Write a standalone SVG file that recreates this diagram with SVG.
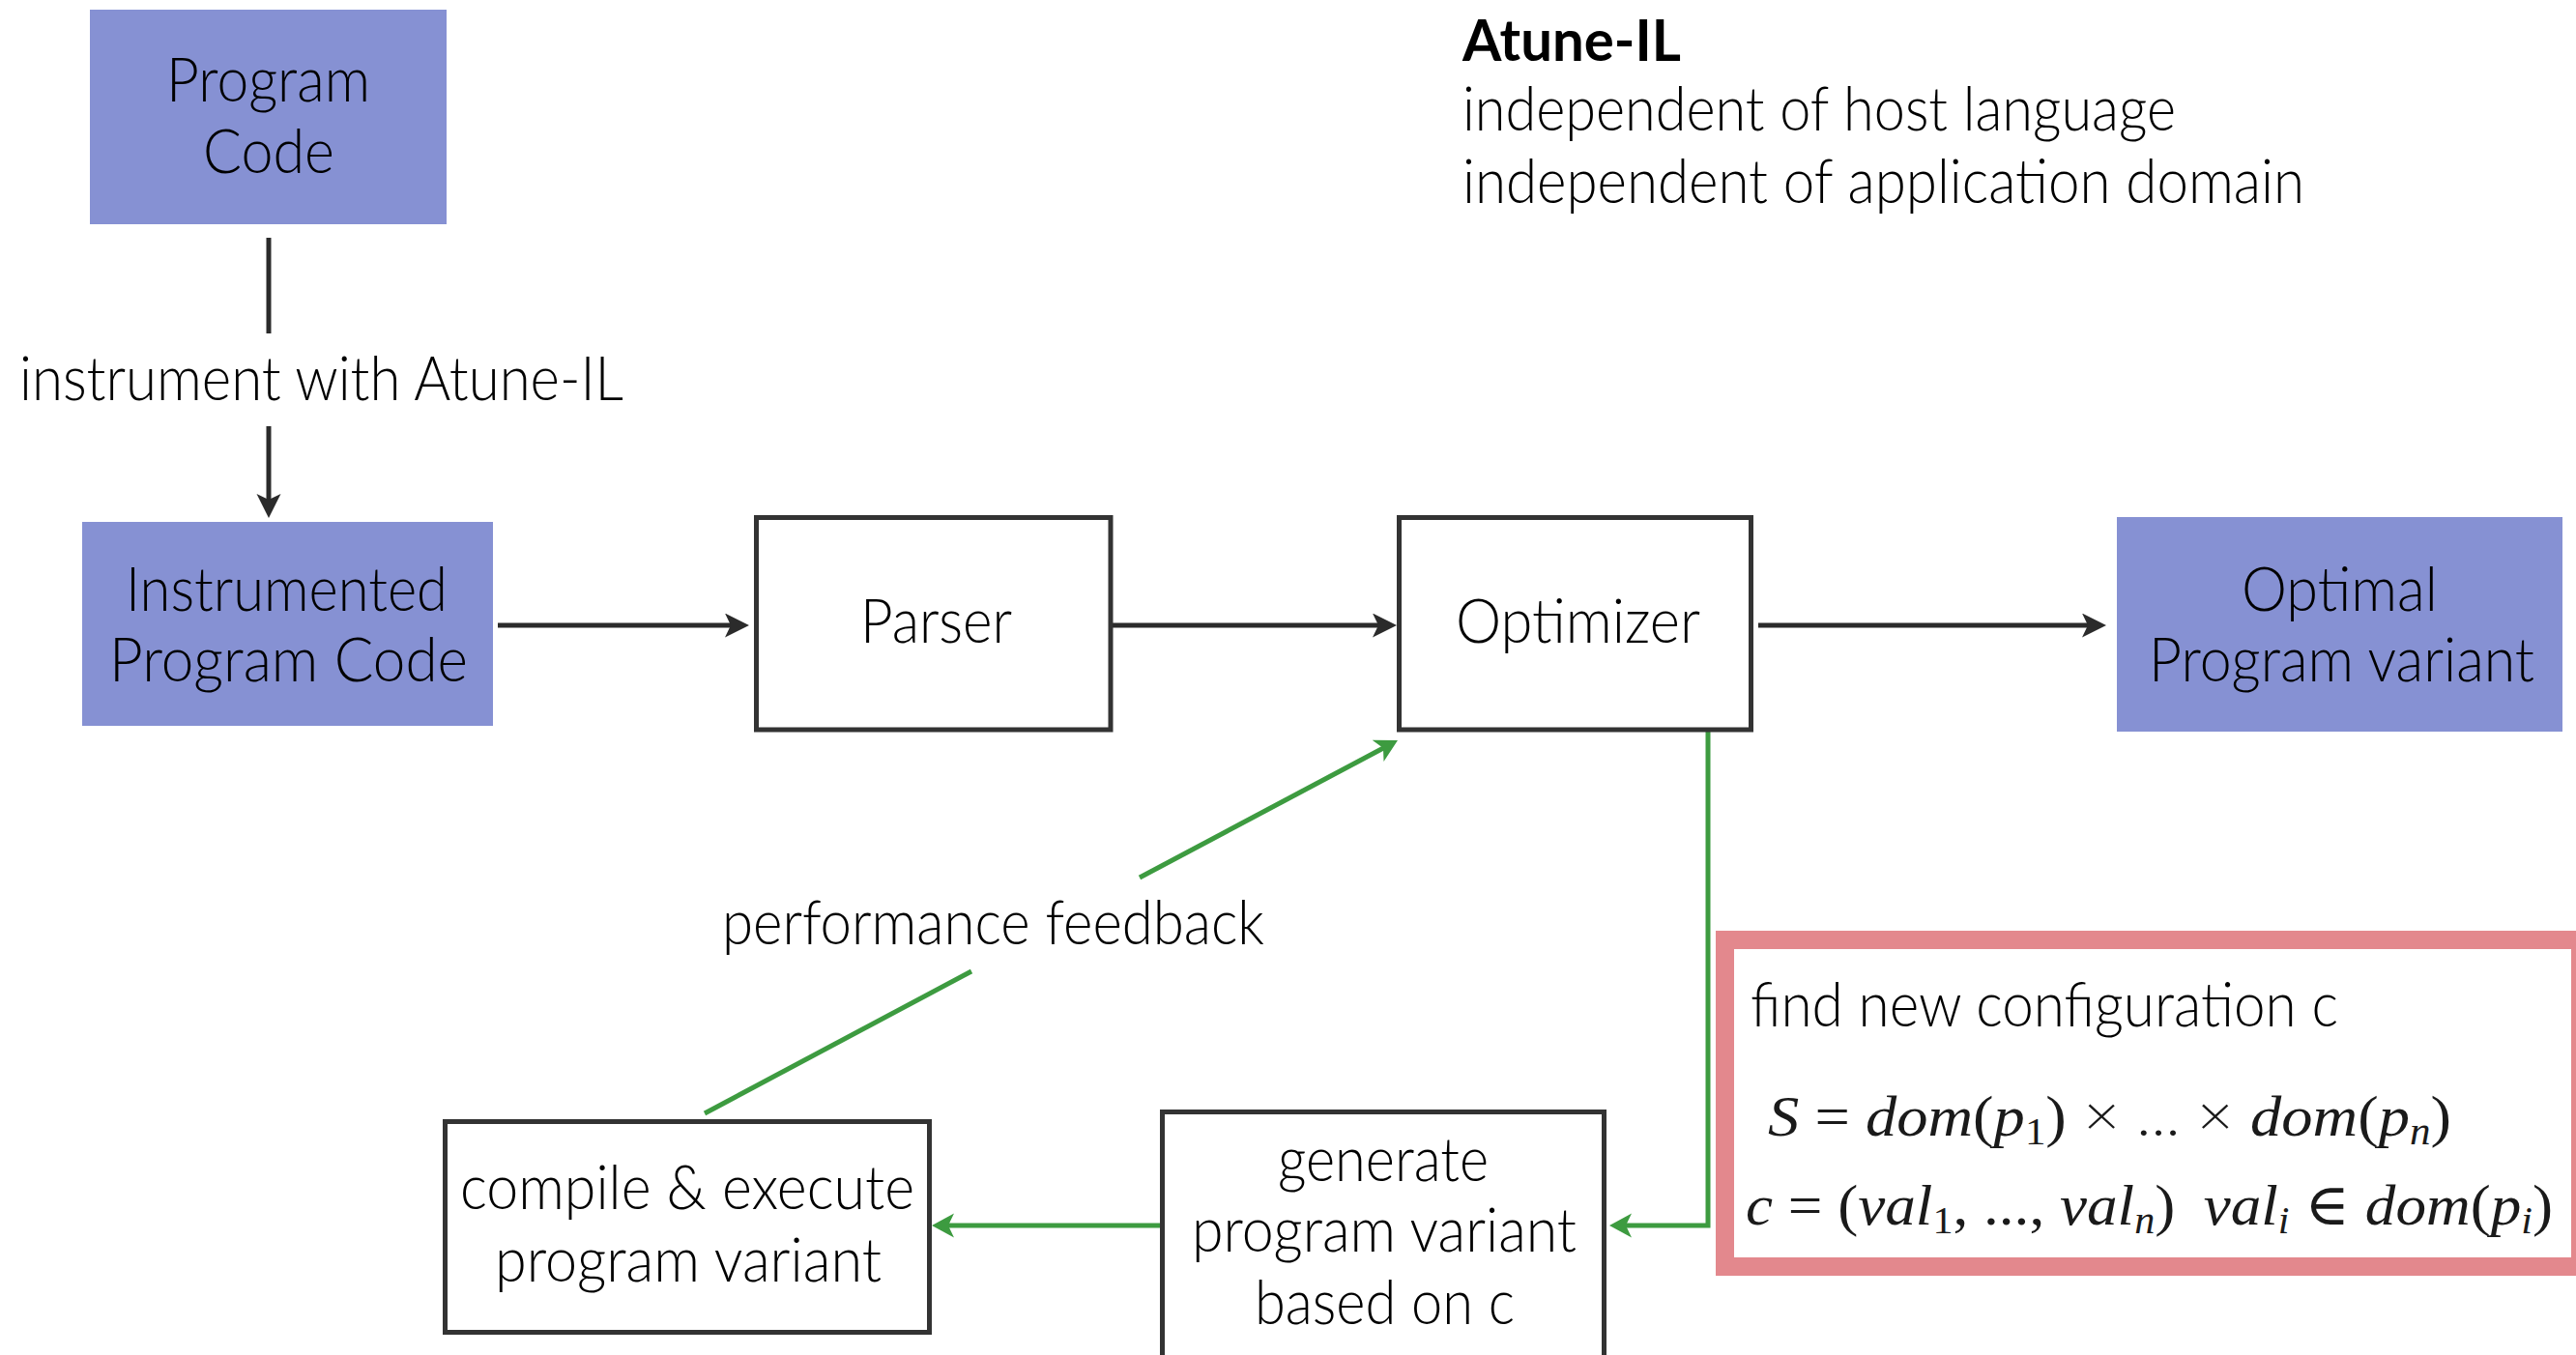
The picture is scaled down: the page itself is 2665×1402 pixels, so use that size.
<svg xmlns="http://www.w3.org/2000/svg" width="2665" height="1402" viewBox="0 0 2665 1402">
<style>
  .lbl { font-family: Lato, "Open Sans", "Liberation Sans", sans-serif; font-weight: 300; font-size: 63px; fill: #000; }
  .bold { font-family: Lato, "Open Sans", "Liberation Sans", sans-serif; font-weight: 700; font-size: 59px; fill: #000; }
  .math { font-family: "Liberation Serif", "DejaVu Serif", serif; font-size: 60px; fill: #1a1a1a; }
  .it { font-style: italic; }
  .sub { font-size: 40px; }
  .sans { font-family: Lato, "Open Sans", "Liberation Sans", sans-serif; font-weight: 300; }
  .blue { fill: #8691D3; }
  .box { fill: #fff; stroke: #333; stroke-width: 5; }
  .blk { fill: none; stroke: #2b2b2b; stroke-width: 5; }
  .grn { fill: none; stroke: #3D9B40; stroke-width: 5; }
</style>
<defs>
  <marker id="ab" markerUnits="userSpaceOnUse" markerWidth="30" markerHeight="30" refX="10" refY="12.5" orient="auto">
    <path d="M0,0 L25,12.5 L0,25 L6,12.5 z" fill="#2b2b2b"/>
  </marker>
  <marker id="ag" markerUnits="userSpaceOnUse" markerWidth="30" markerHeight="30" refX="10" refY="12.5" orient="auto">
    <path d="M0,0 L23,12.5 L0,25 L6,12.5 z" fill="#3D9B40"/>
  </marker>
</defs>
<rect width="2665" height="1402" fill="#fff"/>

<g id="connectors">
  <line class="blk" x1="278" y1="246" x2="278" y2="345"/>
  <line class="blk" x1="278" y1="441" x2="278" y2="521" marker-end="url(#ab)"/>
  <line class="blk" x1="515" y1="647" x2="760" y2="647" marker-end="url(#ab)"/>
  <line class="blk" x1="1151" y1="647" x2="1430" y2="647" marker-end="url(#ab)"/>
  <line class="blk" x1="1819" y1="647" x2="2164" y2="647" marker-end="url(#ab)"/>
  <polyline class="grn" points="1767,757 1767,1268 1678,1268" marker-end="url(#ag)"/>
  <line class="grn" x1="1200" y1="1268" x2="977" y2="1268" marker-end="url(#ag)"/>
  <line class="grn" x1="729" y1="1152" x2="1005" y2="1005"/>
  <line class="grn" x1="1179" y1="908" x2="1434.5" y2="772.2" marker-end="url(#ag)"/>
  <text class="lbl" x="20" y="414" textLength="625" lengthAdjust="spacingAndGlyphs">instrument with Atune-IL</text>
  <text class="lbl" x="747" y="977" textLength="561" lengthAdjust="spacingAndGlyphs">performance feedback</text>
</g>

<g id="program-code">
  <rect class="blue" x="93" y="10" width="369" height="222"/>
  <text class="lbl" x="172" y="105" textLength="211" lengthAdjust="spacingAndGlyphs">Program</text>
  <text class="lbl" x="210" y="179" textLength="136" lengthAdjust="spacingAndGlyphs">Code</text>
</g>

<g id="instrumented-code">
  <rect class="blue" x="85" y="540" width="425" height="211"/>
  <text class="lbl" x="130" y="632" textLength="333" lengthAdjust="spacingAndGlyphs">Instrumented</text>
  <text class="lbl" x="113" y="705" textLength="371" lengthAdjust="spacingAndGlyphs">Program Code</text>
</g>

<g id="parser">
  <rect class="box" x="782.5" y="535.5" width="366.5" height="219.5"/>
  <text class="lbl" x="890" y="665" textLength="157" lengthAdjust="spacingAndGlyphs">Parser</text>
</g>

<g id="optimizer">
  <rect class="box" x="1447.5" y="535.5" width="364" height="219.5"/>
  <text class="lbl" x="1506" y="665" textLength="253" lengthAdjust="spacingAndGlyphs">Optimizer</text>
</g>

<g id="optimal-variant">
  <rect class="blue" x="2190" y="535" width="461" height="222"/>
  <text class="lbl" x="2319" y="632" textLength="203" lengthAdjust="spacingAndGlyphs">Optimal</text>
  <text class="lbl" x="2223" y="705" textLength="399" lengthAdjust="spacingAndGlyphs">Program variant</text>
</g>

<g id="atune-il-note">
  <text class="bold" x="1513" y="63" textLength="226" lengthAdjust="spacingAndGlyphs">Atune-IL</text>
  <text class="lbl" x="1513" y="135" textLength="738" lengthAdjust="spacingAndGlyphs">independent of host language</text>
  <text class="lbl" x="1513" y="210" textLength="871" lengthAdjust="spacingAndGlyphs">independent of application domain</text>
</g>

<g id="compile-execute">
  <rect class="box" x="460.5" y="1160.5" width="501" height="218"/>
  <text class="lbl" x="476" y="1251" textLength="470" lengthAdjust="spacingAndGlyphs">compile &amp; execute</text>
  <text class="lbl" x="512" y="1326" textLength="400" lengthAdjust="spacingAndGlyphs">program variant</text>
</g>

<g id="generate-variant">
  <rect class="box" x="1202.5" y="1150.5" width="457" height="300"/>
  <text class="lbl" x="1322" y="1222" textLength="218" lengthAdjust="spacingAndGlyphs">generate</text>
  <text class="lbl" x="1233" y="1295" textLength="398" lengthAdjust="spacingAndGlyphs">program variant</text>
  <text class="lbl" x="1298" y="1370" textLength="269" lengthAdjust="spacingAndGlyphs">based on c</text>
</g>

<g id="find-configuration">
  <rect x="1784.5" y="972.5" width="885" height="338" fill="#fff" stroke="#E3888D" stroke-width="19"/>
  <text class="lbl" x="1811" y="1062" textLength="608" lengthAdjust="spacingAndGlyphs">find new configuration c</text>
  <text class="math" x="1829" y="1175" textLength="707" lengthAdjust="spacingAndGlyphs"><tspan class="it">S</tspan> = <tspan class="it">dom</tspan>(<tspan class="it">p</tspan><tspan class="sub" dy="9">1</tspan><tspan dy="-9">)</tspan><tspan class="sans"> × ... × </tspan><tspan class="it">dom</tspan>(<tspan class="it">p</tspan><tspan class="sub it" dy="9">n</tspan><tspan dy="-9">)</tspan></text>
  <text class="math" x="1806" y="1267" textLength="835" lengthAdjust="spacingAndGlyphs"><tspan class="it">c</tspan> = (<tspan class="it">val</tspan><tspan class="sub" dy="9">1</tspan><tspan dy="-9">, ..., </tspan><tspan class="it">val</tspan><tspan class="sub it" dy="9">n</tspan><tspan dy="-9">)</tspan><tspan class="it" dx="28">val</tspan><tspan class="sub it" dy="9">i</tspan><tspan dy="-9"> ∈ </tspan><tspan class="it">dom</tspan>(<tspan class="it">p</tspan><tspan class="sub it" dy="9">i</tspan><tspan dy="-9">)</tspan></text>
</g>
</svg>
